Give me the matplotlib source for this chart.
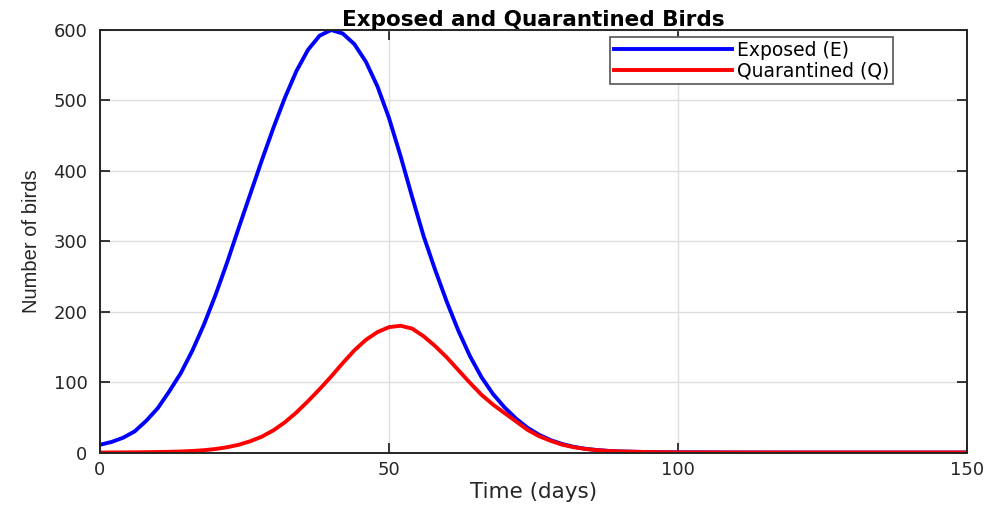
import matplotlib.pyplot as plt

# time points (days) and values
days = [0, 2, 4, 6, 8, 10, 12, 14, 16, 18, 20, 22, 24, 26, 28, 30, 32, 34, 36, 38,
        40, 42, 44, 46, 48, 50, 52, 54, 56, 58, 60, 62, 64, 66, 68, 70, 72, 74, 76,
        78, 80, 82, 84, 86, 88, 90, 95, 100, 110, 120, 150]

exposed = [11, 15, 21, 30, 45, 63, 87, 113, 145, 182, 224, 270, 319, 367, 415, 461,
           504, 542, 572, 592, 600, 595, 580, 555, 520, 475, 421, 363, 307, 259, 214,
           173, 137, 107, 83, 64, 48, 35, 25, 17.5, 12, 8, 5.3, 3.5, 2.3, 1.5, 0.6, 0.3,
           0.1, 0, 0]

quarantined = [0, 0.1, 0.2, 0.3, 0.5, 0.7, 1.0, 1.5, 2.2, 3.3, 5, 7.5, 11, 16, 22.5, 31.5,
               43, 57, 73, 90, 108, 127, 145, 160, 171, 178, 180, 176, 165, 151, 135,
               117, 99, 82, 68, 56, 44, 32, 23, 16.5, 11, 7.5, 5, 3.3, 2.2, 1.5, 0.6,
               0.2, 0, 0, 0]

xticks = [0, 50, 100, 150]
yticks = [0, 100, 200, 300, 400, 500, 600]

plt.rcParams['font.family'] = ['DejaVu Sans']
dark = '#262626'

fig = plt.figure(figsize=(9.92, 5.12), dpi=100)
ax = fig.add_axes([0.1008, 0.1162, 0.8740, 0.8252])

ax.plot(days, exposed, color=(0, 0, 1), linewidth=2.8, label='Exposed (E)')
ax.plot(days, quarantined, color=(1, 0, 0), linewidth=2.8, label='Quarantined (Q)')

ax.set_xlim(0, 150)
ax.set_ylim(0, 600)
ax.set_xticks(xticks)
ax.set_yticks(yticks)
ax.grid(True, color='#dedede', linewidth=1.0)
ax.set_axisbelow(True)

ax.tick_params(direction='in', length=7, width=1.3, colors=dark, labelsize=13,
               top=True, right=True)
ax.tick_params(axis='y', pad=9)
ax.tick_params(axis='x', pad=6)
for s in ax.spines.values():
    s.set_color(dark)
    s.set_linewidth(1.4)

ax.set_title('Exposed and Quarantined Birds', fontsize=15.5, fontweight='bold', pad=3)
ax.set_xlabel('Time (days)', fontsize=15.5, color=dark, labelpad=2)
ax.set_ylabel('Number of birds', fontsize=14.5, color=dark,
              family=['Liberation Sans', 'DejaVu Sans'], labelpad=9)

leg = ax.legend(loc='upper right', bbox_to_anchor=(0.915, 0.984), fontsize=13.5,
                fancybox=False, framealpha=1, edgecolor='#555555', borderpad=0.2,
                handlelength=6.3, handletextpad=0.3, labelspacing=0.1,
                borderaxespad=0)
leg.get_frame().set_linewidth(1.2)

fig.savefig('out.png', dpi=100)
